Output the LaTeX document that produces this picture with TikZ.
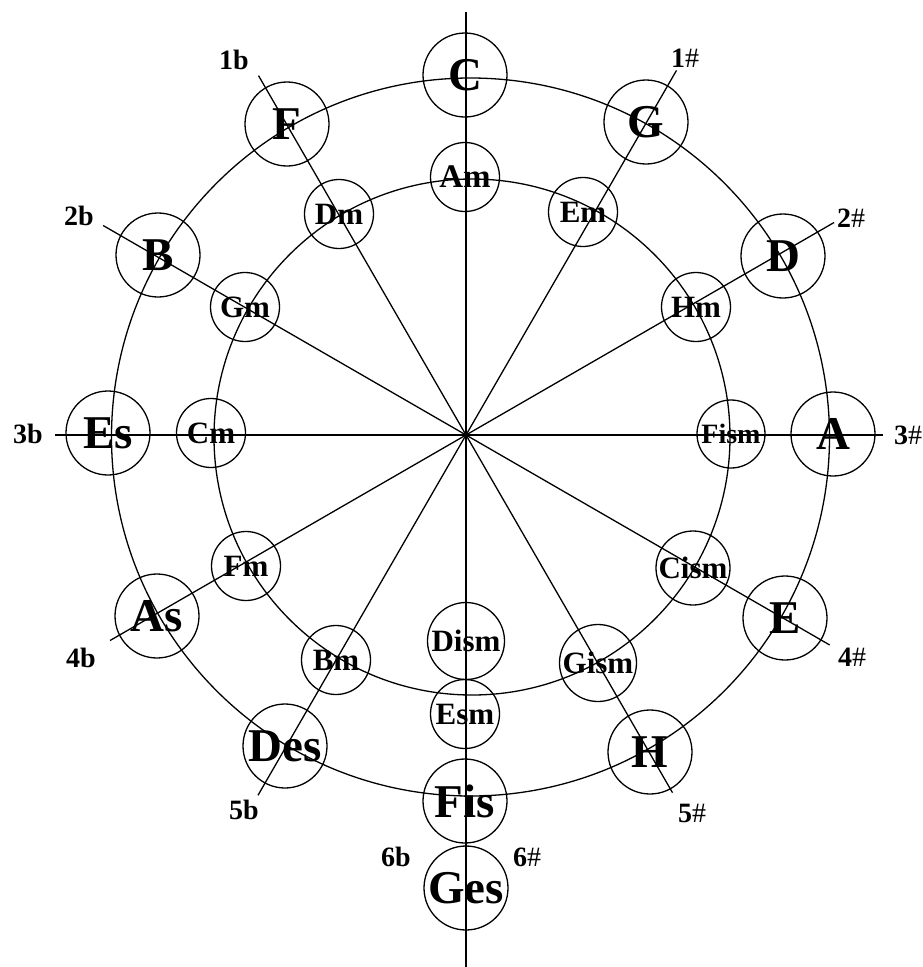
\documentclass[tikz,border=0pt]{standalone}
\usepackage{fontspec}
\setmainfont{Liberation Serif}
\usetikzlibrary{calc}
\newcommand{\zb}[1]{\makebox[0pt]{#1}}
\newcommand{\shp}{{\mdseries\#}}
\begin{document}
\begin{tikzpicture}[x=1pt,y=-1pt,
  line width=1.3pt,
  major/.style={circle,draw,minimum size=84pt,inner sep=0pt,font=\bfseries\fontsize{47}{47}\selectfont},
  minor/.style={circle,draw,minimum size=69pt,inner sep=0pt,font=\bfseries\fontsize{31}{31}\selectfont},
  keylab/.style={inner sep=0pt,font=\bfseries\fontsize{28}{28}\selectfont},
  axisline/.style={line width=1.6pt}]
\useasboundingbox (0,0) rectangle (923,967);
% centres (y axis points down)
\coordinate (O) at (466,435);
\coordinate (Oout) at (470.5,437);
\coordinate (Oin) at (472,437);
% line ends
\coordinate (top) at (466,12);
\coordinate (bot) at (466,967);
\coordinate (e1s) at ($(O)+(-60:421)$);
\coordinate (e2s) at ($(O)+(-30:425)$);
\coordinate (e3s) at (883,435);
\coordinate (e4s) at ($(O)+(30:420)$);
\coordinate (e5s) at ($(O)+(60:413)$);
\coordinate (e1b) at ($(O)+(-120:415)$);
\coordinate (e2b) at ($(O)+(-150:419)$);
\coordinate (e3b) at (55,435);
\coordinate (e4b) at ($(O)+(150:411)$);
\coordinate (e5b) at ($(O)+(120:416)$);
% spokes
\draw[axisline] (top) -- (bot);
\draw[axisline] (e3b) -- (e3s);
\draw (e1s) -- (e5b);
\draw (e2s) -- (e4b);
\draw (e4s) -- (e2b);
\draw (e5s) -- (e1b);
% rings
\draw (Oout) circle[radius=359pt];
\draw (Oin) circle[radius=258pt];
% major keys
\node[major] (C) at (465,75) {\zb{C}};
\node[major] (G) at (646,122) {\zb{G}};
\node[major] (D) at (783,256) {\zb{D}};
\node[major] (A) at (833,434) {\zb{A}};
\node[major] (E) at (785,618) {\zb{E}};
\node[major] (H) at (650,752) {\zb{H}};
\node[major] (Fis) at (465,801) {\zb{Fis}};
\node[major] (Ges) at (466,888) {\zb{Ges}};
\node[major] (Des) at (285,746) {\zb{Des}};
\node[major] (As) at (157,616) {\zb{As}};
\node[major] (Es) at (108,433) {\zb{Es}};
\node[major] (B) at (158,255) {\zb{B}};
\node[major] (F) at (287,124) {\zb{F}};
% minor keys
\node[minor,font=\bfseries\fontsize{33}{33}\selectfont] (Am) at (465,177) {\zb{Am}};
\node[minor] (Em) at (583,212) {\zb{Em}};
\node[minor] (Hm) at (696,307) {\zb{Hm}};
\node[minor,minimum size=68pt,font=\bfseries\fontsize{28}{28}\selectfont] (Fism) at (731,434) {\zb{Fism}};
\node[minor,minimum size=74pt] (Cism) at (693,568) {\zb{Cism}};
\node[minor,minimum size=77pt] (Gism) at (598,663) {\zb{Gism}};
\node[minor,minimum size=77pt] (Dism) at (466,641) {\zb{Dism}};
\node[minor] (Esm) at (465,714) {\zb{Esm}};
\node[minor] (Bm) at (336,660) {\zb{Bm}};
\node[minor] (Fm) at (246,566) {\zb{Fm}};
\node[minor] (Cm) at (211,433) {\zb{Cm}};
\node[minor] (Gm) at (245,307) {\zb{Gm}};
\node[minor] (Dm) at (339,214) {\zb{Dm}};
% key signature labels
\node[keylab] (l1b) at (234,60) {1b};
\node[keylab] (l2b) at (79,216) {2b};
\node[keylab] (l3b) at (28,434) {3b};
\node[keylab] (l4b) at (81,658) {4b};
\node[keylab] (l5b) at (244,810) {5b};
\node[keylab] (l6b) at (396,857) {6b};
\node[keylab] (l6s) at (527,857) {6\shp};
\node[keylab] (l5s) at (692,813) {5\shp};
\node[keylab] (l4s) at (852,657) {4\shp};
\node[keylab] (l3s) at (908,435) {3\shp};
\node[keylab] (l2s) at (851,218) {2\shp};
\node[keylab] (l1s) at (685,58) {1\shp};
\end{tikzpicture}
\end{document}
